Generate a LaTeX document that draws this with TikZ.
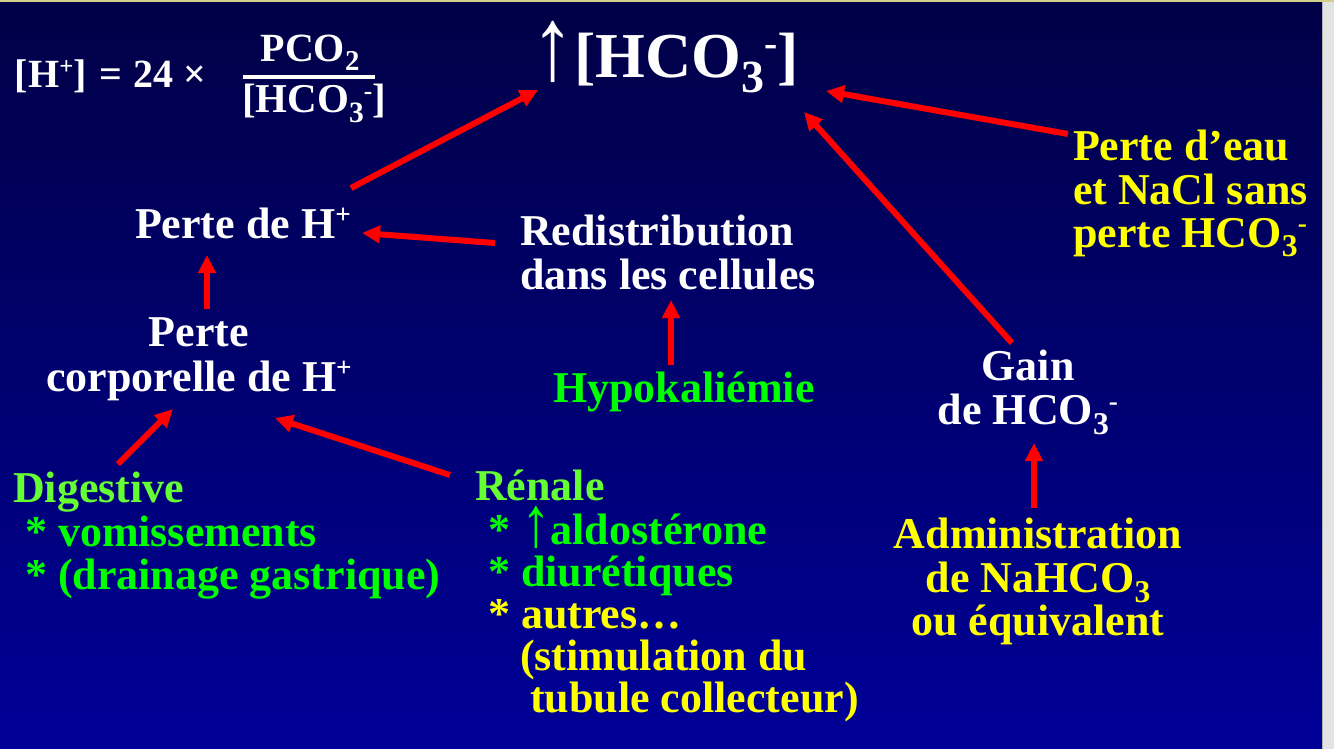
\documentclass[tikz,border=0pt]{standalone}
\usepackage{fontspec}
\usepackage{graphicx}
\setmainfont{Liberation Serif}
\usetikzlibrary{arrows.meta}
\definecolor{bgtop}{HTML}{000046}
\definecolor{bgbot}{HTML}{000098}
\definecolor{hdgreen}{HTML}{66FF33}
\definecolor{itgreen}{HTML}{00FF00}
\definecolor{txyellow}{HTML}{FFFF00}
\definecolor{arred}{HTML}{FF0000}
\definecolor{edgegrey}{HTML}{E3E3E3}
\definecolor{topline}{HTML}{D4D08A}
\newcommand{\lo}[1]{\raisebox{-0.22em}{\scalebox{0.72}{#1}}}
\newcommand{\hi}[1]{\raisebox{0.33em}{\scalebox{0.62}{#1}}}
\newcommand{\uparr}{\smash{\raisebox{-0.03em}{\scalebox{1.35}[1.62]{↑}}}}
\begin{document}
\begin{tikzpicture}[x=1pt,y=-1pt,
  lbl/.style={inner sep=0pt, outer sep=0pt, font=\fontsize{44}{42.5}\selectfont\bfseries},
  arr/.style={draw=arred, line width=6pt, -{Triangle[length=18pt,width=17pt]}}]
\useasboundingbox (0,0) rectangle (1334,749);
% background
\shade[top color=bgtop, bottom color=bgbot] (0,0) rectangle (1322,749);
\fill[edgegrey] (1322,0) rectangle (1334,749);
\draw[line width=1pt, color=gray!60] (1322.5,0) -- (1322.5,749);
\fill[topline] (0,0) rectangle (1334,2);

% formula
\node[lbl, text=white, anchor=base west, font=\fontsize{40}{40}\selectfont\bfseries] (lhs) at (15,88) {[H\hi{+}]\hspace{13pt}=\hspace{11pt}24\hspace{10pt}×};
\node[lbl, text=white, anchor=base, font=\fontsize{40}{40}\selectfont\bfseries] (num) at (310,62) {PCO\lo{2}};
\node[lbl, text=white, anchor=base, font=\fontsize{41}{41}\selectfont\bfseries] (den) at (314,113) {[HCO\lo{3}\hi{-}]};
\fill[white] (243,75) rectangle (375,79);

% title
\node[lbl, text=white, anchor=base west, font=\fontsize{64}{64}\selectfont\bfseries] (title) at (531,78) {\uparr[HCO\lo{3}\hi{-}]};

% nodes
\node[lbl, text=white, anchor=base west] (perteH) at (135,238) {Perte de H\hi{+}};
\node[lbl, text=white, anchor=north west, align=left] (redis) at (520,215) {\strut Redistribution\\dans les cellules};
\node[lbl, text=white, anchor=north, align=center] (corp) at (199,317) {\strut Perte\\corporelle de H\hi{+}};
\node[lbl, text=itgreen, anchor=base west] (hypo) at (553,402) {Hypokaliémie};
\node[lbl, text=white, anchor=north, align=center] (gain) at (1028,350) {\strut Gain\\de HCO\lo{3}\hi{-}};
\node[lbl, text=txyellow, anchor=north west, align=left] (eau) at (1073,130) {\strut Perte d’eau\\et NaCl sans\\perte HCO\lo{3}\hi{-}};
\node[lbl, text=txyellow, anchor=north, align=center] (admin) at (1038,518) {\strut Administration\\de NaHCO\lo{3}\\ou équivalent};
\node[lbl, anchor=north west, align=left] (dig) at (13,472) {\textcolor{hdgreen}{\strut Digestive}\\
  \hspace*{12pt}\textcolor{itgreen}{* vomissements}\\
  \hspace*{12pt}\textcolor{itgreen}{* (drainage gastrique)}};
\node[lbl, anchor=north west, align=left, font=\fontsize{44}{42}\selectfont\bfseries] (ren) at (475,470) {\textcolor{hdgreen}{\strut Rénale}\\
  \hspace*{13pt}\textcolor{itgreen}{* \uparr aldostérone}\\
  \hspace*{13pt}\textcolor{itgreen}{* diurétiques}\\
  \hspace*{13pt}\textcolor{txyellow}{* autres…}\\
  \hspace*{45pt}\textcolor{txyellow}{(stimulation du}\\
  \hspace*{55pt}\textcolor{txyellow}{tubule collecteur)}};

% connectors
\draw[arr] ([shift={(216,-50)}]perteH.base west) -- ([shift={(7,12)}]title.base west);
\draw[arr] ([shift={(-25,28)}]redis.north west) -- ([shift={(227,-5)}]perteH.base west);
\draw[arr] ([shift={(8,-8)}]corp.north) -- ([shift={(72,17)}]perteH.base west);
\draw[arr] ([shift={(105,-8)}]dig.north west) -- ([shift={(-26,92)}]corp.north);
\draw[arr] ([shift={(-25,5)}]ren.north west) -- ([shift={(76,101)}]corp.north);
\draw[arr] ([shift={(118,-37)}]hypo.base west) -- ([shift={(151,85)}]redis.north west);
\draw[arr] ([shift={(-5,4)}]eau.north west) -- ([shift={(295,13)}]title.base west);
\draw[arr] ([shift={(-16,-7)}]gain.north) -- ([shift={(273,34)}]title.base west);
\draw[arr] ([shift={(-4,-10)}]admin.north) -- ([shift={(6,93)}]gain.north);
\end{tikzpicture}
\end{document}
